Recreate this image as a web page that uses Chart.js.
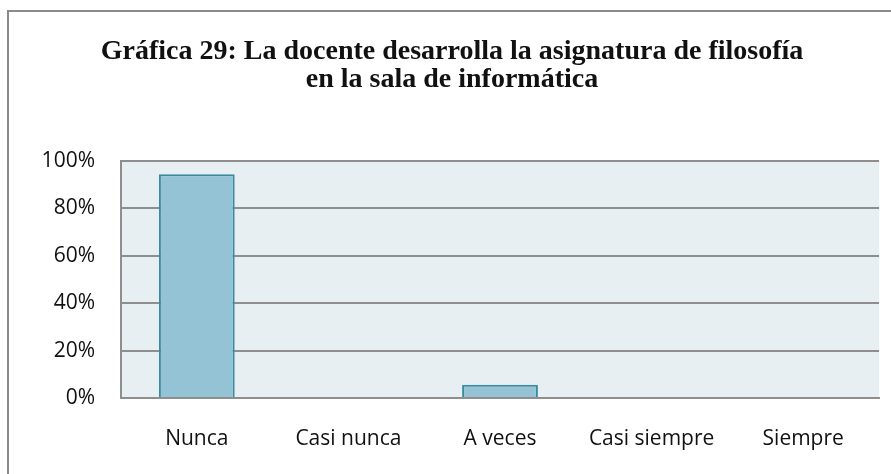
<!DOCTYPE html>
<html>
<head>
<meta charset="utf-8">
<script src="https://cdn.jsdelivr.net/npm/chart.js@4/dist/chart.umd.min.js"></script>
<style>
  html, body { margin: 0; padding: 0; background: #fff; }
  #wrap { position: relative; width: 891px; height: 474px; overflow: hidden; }
  #frame { position: absolute; left: 7px; top: 10px; width: 900px; height: 500px;
           border-left: 2px solid #8a8a8a; border-top: 2px solid #8a8a8a; }
  canvas { position: absolute; left: 0; top: 0; }
</style>
</head>
<body>
<div id="wrap">
  <div id="frame"></div>
  <canvas id="grafica" width="891" height="474"></canvas>
</div>
<script>
/* ─── Datos ─── */
const categorias = ['Nunca', 'Casi nunca', 'A veces', 'Casi siempre', 'Siempre'];
const porcentajes = [94.4, 0, 5.6, 0, 0];
const titulo = ['Gráfica 29: La docente desarrolla la asignatura de filosofía', 'en la sala de informática'];

const COLORES = {
  barra: '#93c3d4',
  borde: '#3b8a9d',
  fondo: '#e8eff3',
  grid: '#8e8e8e',
  texto: '#111'
};

/* fondo del área de trazado */
const fondoPlot = {
  id: 'fondoPlot',
  beforeDraw(chart) {
    const { ctx, chartArea: a } = chart;
    ctx.save();
    ctx.fillStyle = COLORES.fondo;
    ctx.fillRect(a.left, a.top, a.right - a.left, a.bottom - a.top);
    ctx.restore();
  }
};

new Chart(document.getElementById('grafica').getContext('2d'), {
  type: 'bar',
  data: {
    labels: categorias,
    datasets: [{
      data: porcentajes,
      backgroundColor: COLORES.barra,
      borderColor: COLORES.borde,
      borderWidth: 2,
      barPercentage: 0.5,
      categoryPercentage: 1
    }]
  },
  options: {
    responsive: false,
    animation: false,
    layout: { padding: { left: 25, right: 12, top: 0, bottom: 0 } },
    plugins: {
      legend: { display: false },
      tooltip: { enabled: false },
      title: {
        display: true,
        text: titulo,
        color: COLORES.texto,
        font: { family: "'Liberation Serif', 'Times New Roman', serif", size: 28, weight: 'bold', lineHeight: 1.0 },
        padding: { top: 38, bottom: 67 }
      }
    },
    scales: {
      x: {
        grid: { display: false, drawTicks: false },
        border: { display: true, color: COLORES.grid, width: 2 },
        ticks: { color: COLORES.texto, padding: 28, font: { family: "'Open Sans', sans-serif", size: 21 } },
        afterFit: s => { s.height = 76; }
      },
      y: {
        min: 0, max: 100,
        grid: { color: COLORES.grid, lineWidth: 2, drawTicks: false },
        border: { display: true, color: COLORES.grid, width: 2 },
        ticks: {
          stepSize: 20,
          color: COLORES.texto,
          padding: 26,
          font: { family: "'Open Sans', sans-serif", size: 21 },
          callback: v => v + '%'
        },
        afterFit: s => { s.width = 96; }
      }
    }
  },
  plugins: [fondoPlot]
});
</script>
</body>
</html>
